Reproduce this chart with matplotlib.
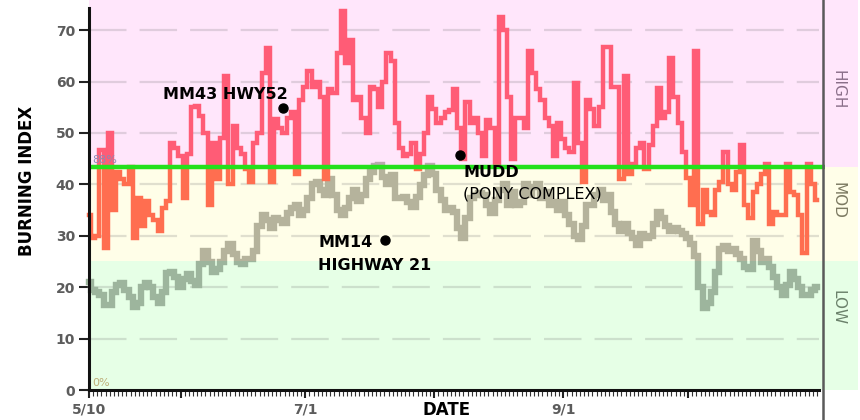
import matplotlib
matplotlib.use('Agg')
import matplotlib.pyplot as plt
from matplotlib.patches import Rectangle
from matplotlib.lines import Line2D

plt.rcParams['font.family'] = ['DejaVu Sans']
plt.rcParams['lines.scale_dashes'] = False

# ---------------- data ----------------
days = list(range(176))  # day 0 = 5/10

burning_index = [
    34, 29.6, 30, 46.6, 27.7, 50, 35, 42.4, 41, 40, 43.4, 29.6, 37.3, 32, 36.7, 34, 33, 31, 35.4, 36.7, 48, 47, 45.6, 37.3, 46, 55,
    55.3, 53.3, 50, 36, 48, 41, 49, 61, 40, 51.4, 47, 46, 43, 40.5, 48, 50, 61.7, 66.5, 40.5, 52.7, 51, 50, 53, 54, 42,
    56.5, 59, 62, 59, 60, 57, 41, 58.5, 57.8, 65.5, 73.8, 63.6, 68, 56.5, 57, 53, 50, 59, 58.5, 55, 60, 65.5, 64, 52,
    47, 45.6, 46, 48, 43, 46, 50, 57, 54.6, 52, 53, 54, 54.5, 58.5, 51, 45, 56, 52, 53, 50, 45.6, 52.5, 51, 44, 72.5, 70,
    57, 45, 53, 53, 51, 66, 61.7, 58.5, 56.5, 53, 51.4, 45.6, 52, 48.8, 47, 46.3, 59.7, 48, 40.5, 56.5, 54.6, 51.4, 55, 66.8,
    66.8, 59, 59, 41, 61, 42, 44, 47, 48, 43, 47.6, 51.4, 58.8, 53, 54, 64.6, 57, 52, 46.3, 41.2, 36, 66, 32.2, 39, 34.7,
    34, 39, 40.5, 46.3, 40, 39, 42.4, 47.6, 36, 33.5, 38.6, 40, 42, 44, 32.2, 34.7, 34, 34, 44, 38.6, 38, 34, 26.7, 44, 40, 37,
]

average_bi = [
    21, 19.5, 19, 18.5, 16.5, 16.5, 19, 20.5, 20.8, 19.5, 18, 16.2, 17, 20, 20.8, 20, 18, 17, 19, 22.7, 23, 22, 20, 21.5, 22.5,
    21.3, 20.5, 24.5, 27, 25, 23, 23.5, 25, 27, 28.5, 26.5, 25, 24.5, 25.5, 25.5, 27, 32, 34, 33, 31.5, 33.5, 33, 32.5, 34.5, 35.5, 36,
    34, 35, 37.3, 40, 40.5, 39, 38, 41, 38, 35, 34, 35.5, 37.3, 39, 36.7, 38, 41, 42.4, 43.5, 43.7, 41.5, 40, 41.8, 37.3,
    37.3, 37.5, 36.5, 35.6, 37.5, 39.9, 41.8, 43.5, 42, 39, 37, 35, 35.5, 34.7, 31.5, 29.6, 33.5, 37.3, 38, 38.3, 38, 36, 34.5, 37, 39, 40,
    36, 38.5, 36, 36.5, 40, 38, 39.5, 40, 37.3, 38.5, 36, 36.5, 35, 36.5, 34, 32.2, 30, 29.3, 32, 36, 36, 38, 39, 37,
    38, 34.7, 32.2, 31, 32.2, 30.5, 29.6, 28.3, 30.3, 29.5, 30, 32.2, 34.7, 33.5, 32, 31, 31.5, 31, 30.3, 29.5, 28.5, 26, 20, 16, 17,
    19, 23, 27.5, 28, 27, 27.5, 26.5, 25.5, 24, 23.5, 29, 27, 25, 25.5, 24, 22, 20, 18.5, 20.5, 23, 21.5, 20, 18.5, 18.5, 19.5, 20,
]

high_threshold = 43.4
low_threshold = 25.1

x_tick_days = [0, 22, 52, 83, 114, 144]
x_tick_labels = ['5/10', '', '7/1', '', '9/1', '']
y_ticks = [0, 10, 20, 30, 40, 50, 60, 70]

fire_names = ['MM43 HWY52', 'MUDD', 'MM14']
fire_days = [46.6, 89.2, 71.2]
fire_values = [54.9, 45.7, 29.2]

# ---------------- figure ----------------
W, H = 860, 420
fig = plt.figure(figsize=(W / 100, H / 100), dpi=100)
px_day = 4.16
px_unit = 5.14
ax = fig.add_axes([89 / W, 30 / H, (858 - 89) / W, 390 / H])
xmax = (858 - 89) / px_day
ymax = 390 / px_unit
ax.set_xlim(0, xmax)
ax.set_ylim(0, ymax)

# bands
ax.axhspan(high_threshold, ymax, color='#FFE6FB', zorder=0, lw=0)
ax.axhspan(low_threshold, high_threshold, color='#FFFEE8', zorder=0, lw=0)
ax.axhspan(0, low_threshold, color='#E6FFE6', zorder=0, lw=0)

# dashed grid
for v in y_ticks[1:]:
    ax.plot([0, 175.5], [v, v], color=(0.45, 0.45, 0.45, 0.22), lw=1.6,
            dashes=(27, 9.4), zorder=1, solid_capstyle='butt', dash_capstyle='butt')


def zoned(y, colors, lw, z):
    bounds = [(-5, low_threshold), (low_threshold, high_threshold), (high_threshold, 100)]
    for (lo, hi), c in zip(bounds, colors):
        ln, = ax.plot(days, y, drawstyle='steps-mid', color=c, lw=lw, zorder=z,
                      solid_joinstyle='miter')
        ln.set_clip_path(Rectangle((-10, lo), 300, hi - lo, transform=ax.transData))


zoned(average_bi, ['#9DB59D', '#B5B39C', '#BBA8B0'], 4.6, 2)
zoned(burning_index, ['#FF6E50', '#FF6E50', '#FF5C76'], 3.2, 3)

ax.plot([0, 176.9], [high_threshold, high_threshold], color='#24E01C', lw=3.2, zorder=5,
        solid_capstyle='butt')

# spines and ticks
for s in ['top', 'right']:
    ax.spines[s].set_visible(False)
for s in ['left', 'bottom']:
    ax.spines[s].set_linewidth(2.2)
    ax.spines[s].set_color('#111111')
    ax.spines[s].set_zorder(6)
ax.spines['left'].set_bounds(0, 74.3)
ax.spines['bottom'].set_bounds(0, 175.5)

ax.set_yticks(y_ticks)
ax.set_yticklabels([str(v) for v in y_ticks], fontweight='bold')
ax.set_xticks(x_tick_days)
ax.set_xticklabels(x_tick_labels, fontweight='bold')
ax.set_xticks(days, minor=True)
ax.tick_params(axis='y', length=7, width=1.5, color='#222222', labelsize=10,
               labelcolor='#5c5c5c', pad=3)
ax.tick_params(axis='x', which='major', length=6, width=1.5, color='#222222',
               labelsize=10, labelcolor='#5c5c5c', pad=3)
ax.tick_params(axis='x', which='minor', length=4, width=0.8, color='#333333')

# axis titles
fig.text(447 / W, 1 - 410 / H, 'DATE', ha='center', va='center', fontsize=12,
         fontweight='bold', color='black')
fig.text(27 / W, 1 - 181 / H, 'BURNING INDEX', ha='center', va='center', fontsize=12,
         fontweight='bold', rotation=90, color='black')

# percent labels
ax.text(0.7, high_threshold + 0.4, '88%', fontsize=8, color='#9088B4', va='bottom', ha='left', zorder=4)
ax.text(0.7, 0.3, '0%', fontsize=8, color='#BDAE78', va='bottom', ha='left', zorder=4)

# zone labels
zone_names = ['HIGH', 'MOD', 'LOW']
zone_label_y = [58.4, 36.8, 16.1]
zone_colors = ['#8A6F89', '#7C7A62', '#6B816B']
for name, yv, c in zip(zone_names, zone_label_y, zone_colors):
    ax.text(180.1, yv, name, rotation=-90, ha='center', va='center', fontsize=11,
            color=c, zorder=4)

# separator line
fig.add_artist(Line2D([823 / W, 823 / W], [0, 1], transform=fig.transFigure,
                      color='#5a5a5a', lw=1.8))

# fire markers
ax.plot(fire_days, fire_values, 'o', color='black', ms=6.5, zorder=7, lw=0)
bold = dict(fontsize=11.5, fontweight='bold', color='black', zorder=8)
ax.annotate(fire_names[0], (fire_days[0], fire_values[0]), xytext=(5, 13),
            textcoords='offset pixels', ha='right', va='center', **bold)
ax.annotate(fire_names[1], (fire_days[1], fire_values[1]), xytext=(3, -17),
            textcoords='offset pixels', ha='left', va='center', **bold)
ax.annotate('(PONY COMPLEX)', (fire_days[1], fire_values[1]), xytext=(3, -39),
            textcoords='offset pixels', ha='left', va='center', fontsize=11.5,
            color='black', zorder=8)
ax.annotate(fire_names[2], (fire_days[2], fire_values[2]), xytext=(-67, -3),
            textcoords='offset pixels', ha='left', va='center', **bold)
ax.annotate('HIGHWAY 21', (fire_days[2], fire_values[2]), xytext=(-67, -26),
            textcoords='offset pixels', ha='left', va='center', **bold)

fig.savefig('out.png', dpi=100)
